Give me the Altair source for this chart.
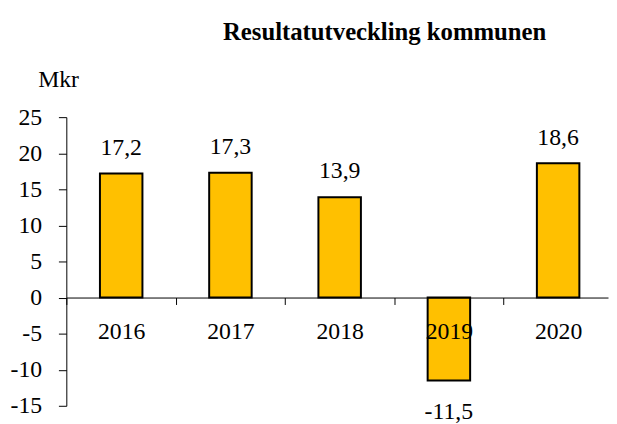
import altair as alt
import pandas as pd

years = ["2016", "2017", "2018", "2019", "2020"]
values = [17.2, 17.3, 13.9, -11.5, 18.6]
labels = [f"{v:.1f}".replace(".", ",") for v in values]
y_ticks = [-15, -10, -5, 0, 5, 10, 15, 20, 25]

df = pd.DataFrame({"year": years, "value": values, "label": labels})

FONT = "Liberation Serif"

x_enc = alt.X(
    "year:N",
    sort=years,
    scale=alt.Scale(paddingInner=0.611, paddingOuter=0.285, align=0.54),
    axis=alt.Axis(
        title=None,
        labelAngle=0,
        offset=-109.5,
        zindex=1,
        ticks=True,
        bandPosition=0,
        tickOffset=-33.8,
        labelOffset=33.8,
        tickSize=7,
        tickWidth=1,
        tickColor="#000000",
        domainColor="#000000",
        labelPadding=15,
        labelFont=FONT,
        labelFontSize=24,
        labelColor="#000000",
    ),
)

y_enc = alt.Y(
    "value:Q",
    scale=alt.Scale(domain=[-15, 25], nice=False, zero=False),
    axis=alt.Axis(
        values=y_ticks,
        tickCount=9,
        grid=False,
        domain=True,
        domainWidth=1,
        zindex=1,
        labelOverlap=False,
        title="Mkr",
        titleAngle=0,
        titleAlign="left",
        titleBaseline="alphabetic",
        titleX=-29,
        titleY=-31,
        titleFont=FONT,
        titleFontSize=24,
        titleFontWeight="normal",
        titleColor="#000000",
        tickSize=8,
        tickColor="#000000",
        domainColor="#000000",
        labelPadding=17,
        labelFont=FONT,
        labelFontSize=24,
        labelColor="#000000",
        labelExpr="datum.value + ''",
    ),
)

base = alt.Chart(df)

bars = base.mark_bar(color="#FFC000", stroke="#000000", strokeWidth=2)

pos_text = base.transform_filter("datum.value >= 0").mark_text(
    font=FONT, fontSize=24, color="#000000", baseline="alphabetic", dy=-19
).encode(text="label:N")

neg_text = base.transform_filter("datum.value < 0").mark_text(
    font=FONT, fontSize=24, color="#000000", baseline="alphabetic", dy=39
).encode(text="label:N")

chart = alt.layer(bars, pos_text, neg_text).encode(
    x=x_enc, y=y_enc
).properties(
    width=548,
    height=292,
    autosize=alt.AutoSizeParams(type="none"),
    padding={"left": 59, "top": 108, "right": 1, "bottom": 16},
    title=alt.TitleParams(
        text="Resultatutveckling kommunen",
        font=FONT,
        fontSize=25,
        fontWeight="bold",
        color="#000000",
        anchor="middle",
        dx=48,
        dy=-19,
    ),
).configure_view(strokeWidth=0)

chart.save("out.html", embed_options={"renderer": "svg", "actions": False})
